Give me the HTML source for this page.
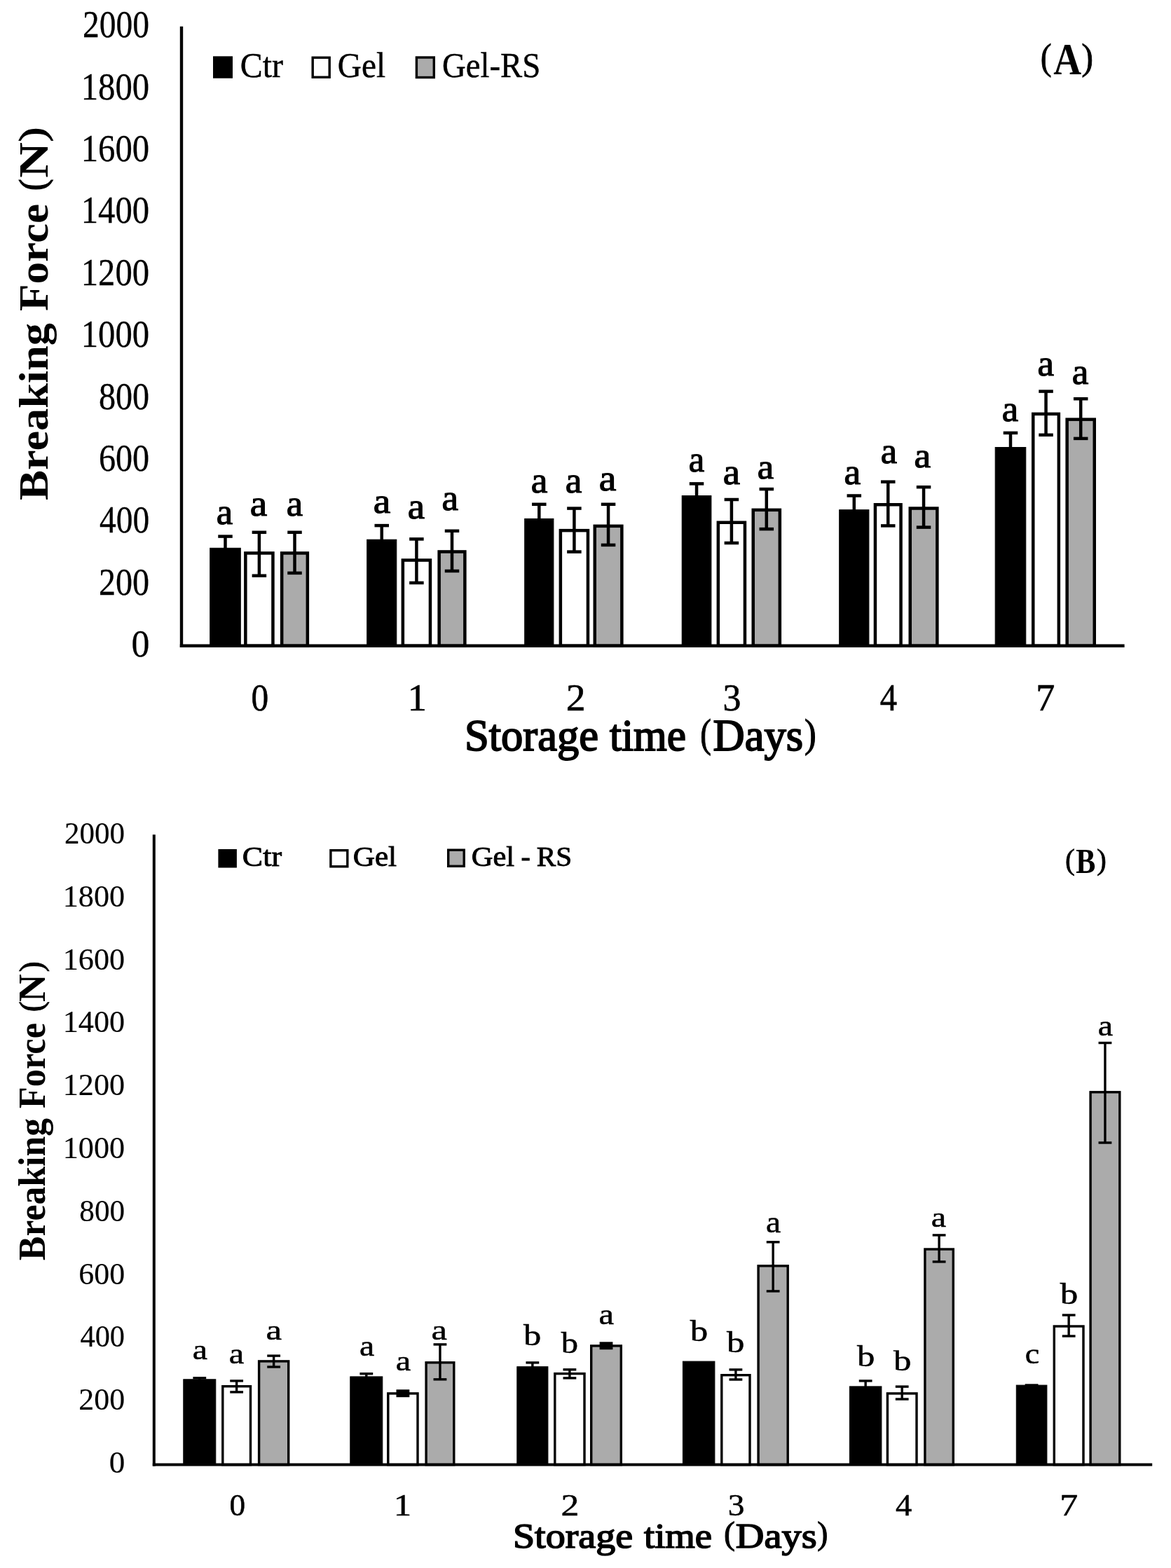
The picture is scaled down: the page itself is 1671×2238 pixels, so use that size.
<!DOCTYPE html><html><head><meta charset="utf-8"><title>Breaking force vs storage time</title>
<style>html,body{margin:0;padding:0;background:#fff;overflow:hidden;}svg{display:block;}text{font-family:"Liberation Serif", "DejaVu Serif", serif;fill:#000;}</style></head><body>
<svg width="1671" height="2238" viewBox="0 0 1671 2238">
<rect x="0" y="0" width="1671" height="2238" fill="#fff"/>
<g>
<rect x="0" y="0" width="1671" height="2238" fill="#fff"/>
<g fill="#000" stroke="#000">
<rect x="299.7" y="782.3" width="43.6" height="139.5"/>
<rect x="350.35" y="789.45" width="39.1" height="132.35" fill="#fff" stroke="#000" stroke-width="4.5"/>
<rect x="402.15" y="789.45" width="36.7" height="132.35" fill="#ababab" stroke="#000" stroke-width="4.5"/>
<rect x="523.7" y="770.2" width="42.1" height="151.6"/>
<rect x="574.85" y="799.55" width="39.1" height="122.25" fill="#fff" stroke="#000" stroke-width="4.5"/>
<rect x="626.65" y="787.45" width="36.7" height="134.35" fill="#ababab" stroke="#000" stroke-width="4.5"/>
<rect x="748.7" y="740.4" width="41.2" height="181.4"/>
<rect x="799.85" y="757.15" width="39.1" height="164.65" fill="#fff" stroke="#000" stroke-width="4.5"/>
<rect x="848.75" y="750.85" width="38.6" height="170.95" fill="#ababab" stroke="#000" stroke-width="4.5"/>
<rect x="973.2" y="707.6" width="41.7" height="214.2"/>
<rect x="1024.85" y="745.75" width="38.1" height="176.05" fill="#fff" stroke="#000" stroke-width="4.5"/>
<rect x="1074.75" y="727.85" width="38.1" height="193.95" fill="#ababab" stroke="#000" stroke-width="4.5"/>
<rect x="1197.7" y="727.7" width="42.2" height="194.1"/>
<rect x="1248.95" y="720.25" width="36.6" height="201.55" fill="#fff" stroke="#000" stroke-width="4.5"/>
<rect x="1298.75" y="725.55" width="38.6" height="196.25" fill="#ababab" stroke="#000" stroke-width="4.5"/>
<rect x="1420.2" y="638.5" width="43.6" height="283.3"/>
<rect x="1474.25" y="590.85" width="36.6" height="330.95" fill="#fff" stroke="#000" stroke-width="4.5"/>
<rect x="1522.65" y="598.65" width="39.1" height="323.15" fill="#ababab" stroke="#000" stroke-width="4.5"/>
<line x1="321.5" y1="765.6" x2="321.5" y2="788.3" stroke-width="4.5"/>
<line x1="311.25" y1="765.6" x2="331.75" y2="765.6" stroke-width="4.5"/>
<line x1="311.25" y1="788.3" x2="331.75" y2="788.3" stroke-width="4.5"/>
<line x1="369.9" y1="759.8" x2="369.9" y2="821.7" stroke-width="4.5"/>
<line x1="359.65" y1="759.8" x2="380.15" y2="759.8" stroke-width="4.5"/>
<line x1="359.65" y1="821.7" x2="380.15" y2="821.7" stroke-width="4.5"/>
<line x1="420.5" y1="759.8" x2="420.5" y2="817.9" stroke-width="4.5"/>
<line x1="410.25" y1="759.8" x2="430.75" y2="759.8" stroke-width="4.5"/>
<line x1="410.25" y1="817.9" x2="430.75" y2="817.9" stroke-width="4.5"/>
<line x1="544.75" y1="750.1" x2="544.75" y2="776.2" stroke-width="4.5"/>
<line x1="534.5" y1="750.1" x2="555" y2="750.1" stroke-width="4.5"/>
<line x1="534.5" y1="776.2" x2="555" y2="776.2" stroke-width="4.5"/>
<line x1="594.4" y1="769.4" x2="594.4" y2="831.9" stroke-width="4.5"/>
<line x1="584.15" y1="769.4" x2="604.65" y2="769.4" stroke-width="4.5"/>
<line x1="584.15" y1="831.9" x2="604.65" y2="831.9" stroke-width="4.5"/>
<line x1="645" y1="757.8" x2="645" y2="815" stroke-width="4.5"/>
<line x1="634.75" y1="757.8" x2="655.25" y2="757.8" stroke-width="4.5"/>
<line x1="634.75" y1="815" x2="655.25" y2="815" stroke-width="4.5"/>
<line x1="769.3" y1="719.8" x2="769.3" y2="746.4" stroke-width="4.5"/>
<line x1="759.05" y1="719.8" x2="779.55" y2="719.8" stroke-width="4.5"/>
<line x1="759.05" y1="746.4" x2="779.55" y2="746.4" stroke-width="4.5"/>
<line x1="819.4" y1="725.6" x2="819.4" y2="787.6" stroke-width="4.5"/>
<line x1="809.15" y1="725.6" x2="829.65" y2="725.6" stroke-width="4.5"/>
<line x1="809.15" y1="787.6" x2="829.65" y2="787.6" stroke-width="4.5"/>
<line x1="868.05" y1="719.8" x2="868.05" y2="777.9" stroke-width="4.5"/>
<line x1="857.8" y1="719.8" x2="878.3" y2="719.8" stroke-width="4.5"/>
<line x1="857.8" y1="777.9" x2="878.3" y2="777.9" stroke-width="4.5"/>
<line x1="994.05" y1="690.4" x2="994.05" y2="713.6" stroke-width="4.5"/>
<line x1="983.8" y1="690.4" x2="1004.3" y2="690.4" stroke-width="4.5"/>
<line x1="983.8" y1="713.6" x2="1004.3" y2="713.6" stroke-width="4.5"/>
<line x1="1043.9" y1="713" x2="1043.9" y2="775" stroke-width="4.5"/>
<line x1="1033.65" y1="713" x2="1054.15" y2="713" stroke-width="4.5"/>
<line x1="1033.65" y1="775" x2="1054.15" y2="775" stroke-width="4.5"/>
<line x1="1093.8" y1="698.1" x2="1093.8" y2="755.1" stroke-width="4.5"/>
<line x1="1083.55" y1="698.1" x2="1104.05" y2="698.1" stroke-width="4.5"/>
<line x1="1083.55" y1="755.1" x2="1104.05" y2="755.1" stroke-width="4.5"/>
<line x1="1218.8" y1="707.5" x2="1218.8" y2="733.7" stroke-width="4.5"/>
<line x1="1208.55" y1="707.5" x2="1229.05" y2="707.5" stroke-width="4.5"/>
<line x1="1208.55" y1="733.7" x2="1229.05" y2="733.7" stroke-width="4.5"/>
<line x1="1267.25" y1="687.7" x2="1267.25" y2="750.4" stroke-width="4.5"/>
<line x1="1257" y1="687.7" x2="1277.5" y2="687.7" stroke-width="4.5"/>
<line x1="1257" y1="750.4" x2="1277.5" y2="750.4" stroke-width="4.5"/>
<line x1="1318.05" y1="695.2" x2="1318.05" y2="752.6" stroke-width="4.5"/>
<line x1="1307.8" y1="695.2" x2="1328.3" y2="695.2" stroke-width="4.5"/>
<line x1="1307.8" y1="752.6" x2="1328.3" y2="752.6" stroke-width="4.5"/>
<line x1="1442" y1="617.9" x2="1442" y2="644.5" stroke-width="4.5"/>
<line x1="1431.75" y1="617.9" x2="1452.25" y2="617.9" stroke-width="4.5"/>
<line x1="1431.75" y1="644.5" x2="1452.25" y2="644.5" stroke-width="4.5"/>
<line x1="1492.55" y1="558.6" x2="1492.55" y2="620.8" stroke-width="4.5"/>
<line x1="1482.3" y1="558.6" x2="1502.8" y2="558.6" stroke-width="4.5"/>
<line x1="1482.3" y1="620.8" x2="1502.8" y2="620.8" stroke-width="4.5"/>
<line x1="1542.2" y1="569.2" x2="1542.2" y2="625.9" stroke-width="4.5"/>
<line x1="1531.95" y1="569.2" x2="1552.45" y2="569.2" stroke-width="4.5"/>
<line x1="1531.95" y1="625.9" x2="1552.45" y2="625.9" stroke-width="4.5"/>
<rect x="261.8" y="1968.8" width="46" height="121.8"/>
<rect x="317.8" y="1978.7" width="39.7" height="111.9" fill="#fff" stroke="#000" stroke-width="3.4"/>
<rect x="369.6" y="1942.9" width="42.1" height="147.7" fill="#ababab" stroke="#000" stroke-width="3.4"/>
<rect x="499.8" y="1964.9" width="46" height="125.7"/>
<rect x="553.8" y="1988.9" width="42.2" height="101.7" fill="#fff" stroke="#000" stroke-width="3.4"/>
<rect x="608.1" y="1944.8" width="39.7" height="145.8" fill="#ababab" stroke="#000" stroke-width="3.4"/>
<rect x="737.8" y="1950.7" width="44.1" height="139.9"/>
<rect x="791.8" y="1960.6" width="42.2" height="130" fill="#fff" stroke="#000" stroke-width="3.4"/>
<rect x="843.7" y="1920.9" width="42.6" height="169.7" fill="#ababab" stroke="#000" stroke-width="3.4"/>
<rect x="974.4" y="1943.1" width="45.5" height="147.5"/>
<rect x="1029.8" y="1962.7" width="40.2" height="127.9" fill="#fff" stroke="#000" stroke-width="3.4"/>
<rect x="1082.1" y="1806.8" width="42.1" height="283.8" fill="#ababab" stroke="#000" stroke-width="3.4"/>
<rect x="1212.4" y="1978.9" width="45.5" height="111.7"/>
<rect x="1266.4" y="1988.9" width="41.6" height="101.7" fill="#fff" stroke="#000" stroke-width="3.4"/>
<rect x="1319.9" y="1783" width="40.4" height="307.6" fill="#ababab" stroke="#000" stroke-width="3.4"/>
<rect x="1450.3" y="1977.1" width="43.6" height="113.5"/>
<rect x="1504.3" y="1893" width="41.7" height="197.6" fill="#fff" stroke="#000" stroke-width="3.4"/>
<rect x="1556.1" y="1558.8" width="41.7" height="531.8" fill="#ababab" stroke="#000" stroke-width="3.4"/>
<line x1="284.8" y1="1966.8" x2="284.8" y2="1974.8" stroke-width="3.4"/>
<line x1="275.4" y1="1966.8" x2="294.2" y2="1966.8" stroke-width="3.4"/>
<line x1="275.4" y1="1974.8" x2="294.2" y2="1974.8" stroke-width="3.4"/>
<line x1="337.65" y1="1970.9" x2="337.65" y2="1986.9" stroke-width="3.4"/>
<line x1="328.25" y1="1970.9" x2="347.05" y2="1970.9" stroke-width="3.4"/>
<line x1="328.25" y1="1986.9" x2="347.05" y2="1986.9" stroke-width="3.4"/>
<line x1="390.65" y1="1935.1" x2="390.65" y2="1951" stroke-width="3.4"/>
<line x1="381.25" y1="1935.1" x2="400.05" y2="1935.1" stroke-width="3.4"/>
<line x1="381.25" y1="1951" x2="400.05" y2="1951" stroke-width="3.4"/>
<line x1="522.8" y1="1960.7" x2="522.8" y2="1970.9" stroke-width="3.4"/>
<line x1="513.4" y1="1960.7" x2="532.2" y2="1960.7" stroke-width="3.4"/>
<line x1="513.4" y1="1970.9" x2="532.2" y2="1970.9" stroke-width="3.4"/>
<rect x="565.5" y="1983.3" width="18.8" height="10.9" stroke="none"/>
<line x1="627.95" y1="1918.9" x2="627.95" y2="1968.8" stroke-width="3.4"/>
<line x1="618.55" y1="1918.9" x2="637.35" y2="1918.9" stroke-width="3.4"/>
<line x1="618.55" y1="1968.8" x2="637.35" y2="1968.8" stroke-width="3.4"/>
<line x1="759.85" y1="1944.9" x2="759.85" y2="1956.7" stroke-width="3.4"/>
<line x1="750.45" y1="1944.9" x2="769.25" y2="1944.9" stroke-width="3.4"/>
<line x1="750.45" y1="1956.7" x2="769.25" y2="1956.7" stroke-width="3.4"/>
<line x1="812.9" y1="1954.8" x2="812.9" y2="1966.9" stroke-width="3.4"/>
<line x1="803.5" y1="1954.8" x2="822.3" y2="1954.8" stroke-width="3.4"/>
<line x1="803.5" y1="1966.9" x2="822.3" y2="1966.9" stroke-width="3.4"/>
<rect x="855.6" y="1915.3" width="18.8" height="10.9" stroke="none"/>
<line x1="1049.9" y1="1954.9" x2="1049.9" y2="1969" stroke-width="3.4"/>
<line x1="1040.5" y1="1954.9" x2="1059.3" y2="1954.9" stroke-width="3.4"/>
<line x1="1040.5" y1="1969" x2="1059.3" y2="1969" stroke-width="3.4"/>
<line x1="1103.15" y1="1772.8" x2="1103.15" y2="1842.9" stroke-width="3.4"/>
<line x1="1093.75" y1="1772.8" x2="1112.55" y2="1772.8" stroke-width="3.4"/>
<line x1="1093.75" y1="1842.9" x2="1112.55" y2="1842.9" stroke-width="3.4"/>
<line x1="1235.15" y1="1970.9" x2="1235.15" y2="1984.9" stroke-width="3.4"/>
<line x1="1225.75" y1="1970.9" x2="1244.55" y2="1970.9" stroke-width="3.4"/>
<line x1="1225.75" y1="1984.9" x2="1244.55" y2="1984.9" stroke-width="3.4"/>
<line x1="1287.2" y1="1979.1" x2="1287.2" y2="1997" stroke-width="3.4"/>
<line x1="1277.8" y1="1979.1" x2="1296.6" y2="1979.1" stroke-width="3.4"/>
<line x1="1277.8" y1="1997" x2="1296.6" y2="1997" stroke-width="3.4"/>
<line x1="1340.1" y1="1762.9" x2="1340.1" y2="1800.9" stroke-width="3.4"/>
<line x1="1330.7" y1="1762.9" x2="1349.5" y2="1762.9" stroke-width="3.4"/>
<line x1="1330.7" y1="1800.9" x2="1349.5" y2="1800.9" stroke-width="3.4"/>
<line x1="1472.1" y1="1977" x2="1472.1" y2="1983.1" stroke-width="3.4"/>
<line x1="1462.7" y1="1977" x2="1481.5" y2="1977" stroke-width="3.4"/>
<line x1="1462.7" y1="1983.1" x2="1481.5" y2="1983.1" stroke-width="3.4"/>
<line x1="1525.15" y1="1877" x2="1525.15" y2="1907" stroke-width="3.4"/>
<line x1="1515.75" y1="1877" x2="1534.55" y2="1877" stroke-width="3.4"/>
<line x1="1515.75" y1="1907" x2="1534.55" y2="1907" stroke-width="3.4"/>
<line x1="1576.95" y1="1488.5" x2="1576.95" y2="1631" stroke-width="3.4"/>
<line x1="1567.55" y1="1488.5" x2="1586.35" y2="1488.5" stroke-width="3.4"/>
<line x1="1567.55" y1="1631" x2="1586.35" y2="1631" stroke-width="3.4"/>
<line x1="259" y1="37.8" x2="259" y2="924" stroke-width="4.4"/>
<line x1="256.8" y1="921.8" x2="1604.6" y2="921.8" stroke-width="4.4"/>
<line x1="219.8" y1="1191.3" x2="219.8" y2="2092.6" stroke-width="4"/>
<line x1="217.8" y1="2090.6" x2="1644.2" y2="2090.6" stroke-width="4"/>
</g>
<rect x="304" y="80.3" width="28" height="31.4" fill="#000"/>
<rect x="446.2" y="82.2" width="24" height="28" fill="#fff" stroke="#000" stroke-width="3.4"/>
<rect x="594.4" y="82" width="24.9" height="28.5" fill="#ababab" stroke="#000" stroke-width="3.4"/>
<rect x="311.4" y="1212" width="26.5" height="26.5" fill="#000"/>
<rect x="471.9" y="1213.7" width="23.9" height="23.1" fill="#fff" stroke="#000" stroke-width="3.4"/>
<rect x="639.7" y="1213.2" width="22.5" height="23.1" fill="#ababab" stroke="#000" stroke-width="3.4"/>
<text x="117.91" y="53.1" font-size="55.3" textLength="95.18" lengthAdjust="spacingAndGlyphs" stroke="#000" stroke-width="0.3">2000</text>
<text x="115.73" y="141.5" font-size="55.3" textLength="97.4" lengthAdjust="spacingAndGlyphs" stroke="#000" stroke-width="0.3">1800</text>
<text x="115.73" y="229.9" font-size="55.3" textLength="97.4" lengthAdjust="spacingAndGlyphs" stroke="#000" stroke-width="0.3">1600</text>
<text x="115.73" y="318.3" font-size="55.3" textLength="97.4" lengthAdjust="spacingAndGlyphs" stroke="#000" stroke-width="0.3">1400</text>
<text x="115.73" y="406.7" font-size="55.3" textLength="97.4" lengthAdjust="spacingAndGlyphs" stroke="#000" stroke-width="0.3">1200</text>
<text x="115.73" y="495.1" font-size="55.3" textLength="97.4" lengthAdjust="spacingAndGlyphs" stroke="#000" stroke-width="0.3">1000</text>
<text x="140.88" y="583.5" font-size="55.3" textLength="72.29" lengthAdjust="spacingAndGlyphs" stroke="#000" stroke-width="0.3">800</text>
<text x="140.92" y="671.9" font-size="55.3" textLength="72.23" lengthAdjust="spacingAndGlyphs" stroke="#000" stroke-width="0.3">600</text>
<text x="141.94" y="760.3" font-size="55.3" textLength="71.21" lengthAdjust="spacingAndGlyphs" stroke="#000" stroke-width="0.3">400</text>
<text x="140.91" y="848.7" font-size="55.3" textLength="72.23" lengthAdjust="spacingAndGlyphs" stroke="#000" stroke-width="0.3">200</text>
<text x="187.41" y="937.1" font-size="55.3" textLength="25.96" lengthAdjust="spacingAndGlyphs" stroke="#000" stroke-width="0.3">0</text>
<text x="358.55" y="1014" font-size="55" textLength="24.68" lengthAdjust="spacingAndGlyphs" stroke="#000" stroke-width="0.6">0</text>
<text x="581.63" y="1014" font-size="55" textLength="27.15" lengthAdjust="spacingAndGlyphs" stroke="#000" stroke-width="0.6">1</text>
<text x="807.68" y="1014" font-size="55" textLength="27.84" lengthAdjust="spacingAndGlyphs" stroke="#000" stroke-width="0.6">2</text>
<text x="1031.57" y="1014" font-size="55" textLength="25.85" lengthAdjust="spacingAndGlyphs" stroke="#000" stroke-width="0.6">3</text>
<text x="1255.87" y="1014" font-size="55" textLength="24.27" lengthAdjust="spacingAndGlyphs" stroke="#000" stroke-width="0.6">4</text>
<text x="1478.33" y="1014" font-size="55" textLength="27.11" lengthAdjust="spacingAndGlyphs" stroke="#000" stroke-width="0.6">7</text>
<text x="662.88" y="1070.8" font-size="63" textLength="191.15" lengthAdjust="spacingAndGlyphs" stroke="#000" stroke-width="1.9">Storage</text>
<text x="870" y="1070.8" font-size="63" textLength="109.06" lengthAdjust="spacingAndGlyphs" stroke="#000" stroke-width="1.9">time</text>
<text x="999.24" y="1065.8" font-size="57.3" textLength="15.55" lengthAdjust="spacingAndGlyphs" stroke="#000" stroke-width="1.14">(</text>
<text x="1017.56" y="1070.8" font-size="63" textLength="128.46" lengthAdjust="spacingAndGlyphs" stroke="#000" stroke-width="1.9">Days</text>
<text x="1147.9" y="1065.8" font-size="57.3" textLength="16.76" lengthAdjust="spacingAndGlyphs" stroke="#000" stroke-width="1.14">)</text>
<text transform="translate(68,714.01) rotate(-90)" font-size="58.5" font-weight="bold" textLength="253.03" lengthAdjust="spacingAndGlyphs">Breaking</text>
<text transform="translate(68,444.05) rotate(-90)" font-size="58.5" font-weight="bold" textLength="153.13" lengthAdjust="spacingAndGlyphs">Force</text>
<text transform="translate(63.8,272.28) rotate(-90)" font-size="52.3" textLength="16.76" lengthAdjust="spacingAndGlyphs" stroke="#000" stroke-width="1.2">(</text>
<text transform="translate(68,253.69) rotate(-90)" font-size="58.5" font-weight="bold" textLength="50.63" lengthAdjust="spacingAndGlyphs">N</text>
<text transform="translate(63.8,202.2) rotate(-90)" font-size="52.3" textLength="20.5" lengthAdjust="spacingAndGlyphs" stroke="#000" stroke-width="1.2">)</text>
<text x="342.82" y="110.4" font-size="50.4" textLength="61.28" lengthAdjust="spacingAndGlyphs" stroke="#000" stroke-width="0.45">Ctr</text>
<text x="481.85" y="110.4" font-size="50.4" textLength="68.22" lengthAdjust="spacingAndGlyphs" stroke="#000" stroke-width="0.45">Gel</text>
<text x="630.91" y="110.4" font-size="50.4" textLength="140.26" lengthAdjust="spacingAndGlyphs" stroke="#000" stroke-width="0.45">Gel-RS</text>
<text x="1484.86" y="98.7" font-size="52.7" textLength="15.9" lengthAdjust="spacingAndGlyphs" stroke="#000" stroke-width="0.8">(</text>
<text x="1503.22" y="105.9" font-size="63" font-weight="bold" textLength="39.84" lengthAdjust="spacingAndGlyphs">A</text>
<text x="1543.23" y="98.7" font-size="52.7" textLength="16.85" lengthAdjust="spacingAndGlyphs" stroke="#000" stroke-width="0.8">)</text>
<text x="91.91" y="1204" font-size="44" textLength="86.2" lengthAdjust="spacingAndGlyphs" stroke="#000" stroke-width="0.15">2000</text>
<text x="89.75" y="1293.8" font-size="44" textLength="88.4" lengthAdjust="spacingAndGlyphs" stroke="#000" stroke-width="0.15">1800</text>
<text x="89.75" y="1383.6" font-size="44" textLength="88.4" lengthAdjust="spacingAndGlyphs" stroke="#000" stroke-width="0.15">1600</text>
<text x="89.75" y="1473.4" font-size="44" textLength="88.4" lengthAdjust="spacingAndGlyphs" stroke="#000" stroke-width="0.15">1400</text>
<text x="89.75" y="1563.2" font-size="44" textLength="88.4" lengthAdjust="spacingAndGlyphs" stroke="#000" stroke-width="0.15">1200</text>
<text x="89.75" y="1653" font-size="44" textLength="88.4" lengthAdjust="spacingAndGlyphs" stroke="#000" stroke-width="0.15">1000</text>
<text x="113.31" y="1742.8" font-size="44" textLength="64.86" lengthAdjust="spacingAndGlyphs" stroke="#000" stroke-width="0.15">800</text>
<text x="112.3" y="1832.6" font-size="44" textLength="65.89" lengthAdjust="spacingAndGlyphs" stroke="#000" stroke-width="0.15">600</text>
<text x="114.42" y="1922.4" font-size="44" textLength="63.69" lengthAdjust="spacingAndGlyphs" stroke="#000" stroke-width="0.15">400</text>
<text x="112.3" y="2012.2" font-size="44" textLength="65.89" lengthAdjust="spacingAndGlyphs" stroke="#000" stroke-width="0.15">200</text>
<text x="155.82" y="2102" font-size="44" textLength="22.59" lengthAdjust="spacingAndGlyphs" stroke="#000" stroke-width="0.15">0</text>
<text x="327.58" y="2162.6" font-size="44.5" textLength="22.62" lengthAdjust="spacingAndGlyphs" stroke="#000" stroke-width="0.5">0</text>
<text x="561.73" y="2162.6" font-size="44.5" textLength="25.36" lengthAdjust="spacingAndGlyphs" stroke="#000" stroke-width="0.5">1</text>
<text x="800.54" y="2162.6" font-size="44.5" textLength="25.95" lengthAdjust="spacingAndGlyphs" stroke="#000" stroke-width="0.5">2</text>
<text x="1038.72" y="2162.6" font-size="44.5" textLength="23.67" lengthAdjust="spacingAndGlyphs" stroke="#000" stroke-width="0.5">3</text>
<text x="1277.93" y="2162.6" font-size="44.5" textLength="23.29" lengthAdjust="spacingAndGlyphs" stroke="#000" stroke-width="0.5">4</text>
<text x="1512.31" y="2162.6" font-size="44.5" textLength="26" lengthAdjust="spacingAndGlyphs" stroke="#000" stroke-width="0.5">7</text>
<text x="731.91" y="2208.7" font-size="51.5" textLength="171.14" lengthAdjust="spacingAndGlyphs" stroke="#000" stroke-width="1.6">Storage</text>
<text x="918.96" y="2208.7" font-size="51.5" textLength="97.08" lengthAdjust="spacingAndGlyphs" stroke="#000" stroke-width="1.6">time</text>
<text x="1032.91" y="2204.4" font-size="45.4" textLength="15.88" lengthAdjust="spacingAndGlyphs" stroke="#000" stroke-width="1">(</text>
<text x="1049.86" y="2208.7" font-size="51.5" textLength="115.76" lengthAdjust="spacingAndGlyphs" stroke="#000" stroke-width="1.6">Days</text>
<text x="1166.26" y="2204.4" font-size="45.4" textLength="15.18" lengthAdjust="spacingAndGlyphs" stroke="#000" stroke-width="1">)</text>
<text transform="translate(64,1799.04) rotate(-90)" font-size="54" font-weight="bold" textLength="203.06" lengthAdjust="spacingAndGlyphs">Breaking</text>
<text transform="translate(64,1582.05) rotate(-90)" font-size="54" font-weight="bold" textLength="122.15" lengthAdjust="spacingAndGlyphs">Force</text>
<text transform="translate(59.9,1444.2) rotate(-90)" font-size="47.2" textLength="14.95" lengthAdjust="spacingAndGlyphs" stroke="#000" stroke-width="1">(</text>
<text transform="translate(64,1429.99) rotate(-90)" font-size="54" font-weight="bold" textLength="39.63" lengthAdjust="spacingAndGlyphs">N</text>
<text transform="translate(59.9,1387.26) rotate(-90)" font-size="47.2" textLength="14.96" lengthAdjust="spacingAndGlyphs" stroke="#000" stroke-width="1">)</text>
<text x="345.88" y="1236.3" font-size="40" textLength="56.23" lengthAdjust="spacingAndGlyphs" stroke="#000" stroke-width="0.9">Ctr</text>
<text x="503.78" y="1236.3" font-size="40" textLength="62.35" lengthAdjust="spacingAndGlyphs" stroke="#000" stroke-width="0.9">Gel</text>
<text x="672.84" y="1236.3" font-size="40" textLength="61.26" lengthAdjust="spacingAndGlyphs" stroke="#000" stroke-width="0.9">Gel</text>
<text x="743.4" y="1236.3" font-size="40" textLength="13.25" lengthAdjust="spacingAndGlyphs" stroke="#000" stroke-width="0.9">-</text>
<text x="765.88" y="1236.3" font-size="40" textLength="50.25" lengthAdjust="spacingAndGlyphs" stroke="#000" stroke-width="0.9">RS</text>
<text x="1520.02" y="1240.9" font-size="42.7" textLength="13.89" lengthAdjust="spacingAndGlyphs" stroke="#000" stroke-width="0.7">(</text>
<text x="1535.25" y="1246.2" font-size="50" font-weight="bold" textLength="28.08" lengthAdjust="spacingAndGlyphs">B</text>
<text x="1565.07" y="1240.9" font-size="42.7" textLength="13.89" lengthAdjust="spacingAndGlyphs" stroke="#000" stroke-width="0.7">)</text>
<text x="308.85" y="748.42" font-size="52.64" textLength="23.37" lengthAdjust="spacingAndGlyphs" stroke="#000" stroke-width="1.2">a</text>
<text x="356.78" y="736.31" font-size="53.67" textLength="24.53" lengthAdjust="spacingAndGlyphs" stroke="#000" stroke-width="1.2">a</text>
<text x="408.72" y="736.31" font-size="53.67" textLength="23.39" lengthAdjust="spacingAndGlyphs" stroke="#000" stroke-width="1.2">a</text>
<text x="532.69" y="732.43" font-size="51.61" textLength="24.54" lengthAdjust="spacingAndGlyphs" stroke="#000" stroke-width="1.2">a</text>
<text x="581.83" y="740.22" font-size="52.85" textLength="24.33" lengthAdjust="spacingAndGlyphs" stroke="#000" stroke-width="1.2">a</text>
<text x="630.58" y="728.12" font-size="52.85" textLength="23.55" lengthAdjust="spacingAndGlyphs" stroke="#000" stroke-width="1.2">a</text>
<text x="757.72" y="702.63" font-size="51.82" textLength="23.61" lengthAdjust="spacingAndGlyphs" stroke="#000" stroke-width="1.2">a</text>
<text x="806.68" y="702.63" font-size="51.82" textLength="23.58" lengthAdjust="spacingAndGlyphs" stroke="#000" stroke-width="1.2">a</text>
<text x="854.68" y="700.22" font-size="52.85" textLength="24.65" lengthAdjust="spacingAndGlyphs" stroke="#000" stroke-width="1.2">a</text>
<text x="982.84" y="673.32" font-size="52.85" textLength="22.47" lengthAdjust="spacingAndGlyphs" stroke="#000" stroke-width="1.2">a</text>
<text x="1031.83" y="690.72" font-size="52.85" textLength="24.33" lengthAdjust="spacingAndGlyphs" stroke="#000" stroke-width="1.2">a</text>
<text x="1080.67" y="682.94" font-size="50.79" textLength="23.43" lengthAdjust="spacingAndGlyphs" stroke="#000" stroke-width="1.2">a</text>
<text x="1204.62" y="690.92" font-size="52.85" textLength="23.67" lengthAdjust="spacingAndGlyphs" stroke="#000" stroke-width="1.2">a</text>
<text x="1256.82" y="660.82" font-size="52.64" textLength="23.35" lengthAdjust="spacingAndGlyphs" stroke="#000" stroke-width="1.2">a</text>
<text x="1304.62" y="666.63" font-size="51.61" textLength="23.68" lengthAdjust="spacingAndGlyphs" stroke="#000" stroke-width="1.2">a</text>
<text x="1429.74" y="600.73" font-size="51.82" textLength="23.43" lengthAdjust="spacingAndGlyphs" stroke="#000" stroke-width="1.2">a</text>
<text x="1480.58" y="536.32" font-size="52.64" textLength="23.55" lengthAdjust="spacingAndGlyphs" stroke="#000" stroke-width="1.2">a</text>
<text x="1529.75" y="548.43" font-size="51.82" textLength="23.57" lengthAdjust="spacingAndGlyphs" stroke="#000" stroke-width="1.2">a</text>
<text x="274.88" y="1940.45" font-size="40.92" textLength="21.27" lengthAdjust="spacingAndGlyphs" stroke="#000" stroke-width="0.5">a</text>
<text x="326.75" y="1946.26" font-size="39.89" textLength="21.5" lengthAdjust="spacingAndGlyphs" stroke="#000" stroke-width="0.5">a</text>
<text x="379.64" y="1912.35" font-size="40.92" textLength="22.55" lengthAdjust="spacingAndGlyphs" stroke="#000" stroke-width="0.5">a</text>
<text x="512.9" y="1934.64" font-size="41.95" textLength="21.27" lengthAdjust="spacingAndGlyphs" stroke="#000" stroke-width="0.5">a</text>
<text x="564.75" y="1956.45" font-size="40.92" textLength="21.5" lengthAdjust="spacingAndGlyphs" stroke="#000" stroke-width="0.5">a</text>
<text x="615.64" y="1912.35" font-size="40.92" textLength="22.42" lengthAdjust="spacingAndGlyphs" stroke="#000" stroke-width="0.5">a</text>
<text x="746.99" y="1920.45" font-size="41.27" textLength="25.21" lengthAdjust="spacingAndGlyphs" stroke="#000" stroke-width="0.5">b</text>
<text x="800.81" y="1930.64" font-size="41.41" textLength="24.27" lengthAdjust="spacingAndGlyphs" stroke="#000" stroke-width="0.5">b</text>
<text x="854.61" y="1890.44" font-size="41.95" textLength="21.57" lengthAdjust="spacingAndGlyphs" stroke="#000" stroke-width="0.5">a</text>
<text x="984.81" y="1914.34" font-size="41.41" textLength="25.44" lengthAdjust="spacingAndGlyphs" stroke="#000" stroke-width="0.5">b</text>
<text x="1036.94" y="1930.25" font-size="41.27" textLength="25.36" lengthAdjust="spacingAndGlyphs" stroke="#000" stroke-width="0.5">b</text>
<text x="1092.95" y="1759.02" font-size="43.59" textLength="21.17" lengthAdjust="spacingAndGlyphs" stroke="#000" stroke-width="0.5">a</text>
<text x="1223" y="1950.14" font-size="41.41" textLength="25.33" lengthAdjust="spacingAndGlyphs" stroke="#000" stroke-width="0.5">b</text>
<text x="1274.92" y="1956.45" font-size="40.72" textLength="25.36" lengthAdjust="spacingAndGlyphs" stroke="#000" stroke-width="0.5">b</text>
<text x="1328.73" y="1750.55" font-size="40.92" textLength="21.43" lengthAdjust="spacingAndGlyphs" stroke="#000" stroke-width="0.5">a</text>
<text x="1462.76" y="1946.26" font-size="39.61" textLength="20.47" lengthAdjust="spacingAndGlyphs" stroke="#000" stroke-width="0.5">c</text>
<text x="1512.87" y="1860.55" font-size="41.27" textLength="25.5" lengthAdjust="spacingAndGlyphs" stroke="#000" stroke-width="0.5">b</text>
<text x="1566.69" y="1478.23" font-size="42.36" textLength="21.45" lengthAdjust="spacingAndGlyphs" stroke="#000" stroke-width="0.5">a</text>
</g>
</svg></body></html>
